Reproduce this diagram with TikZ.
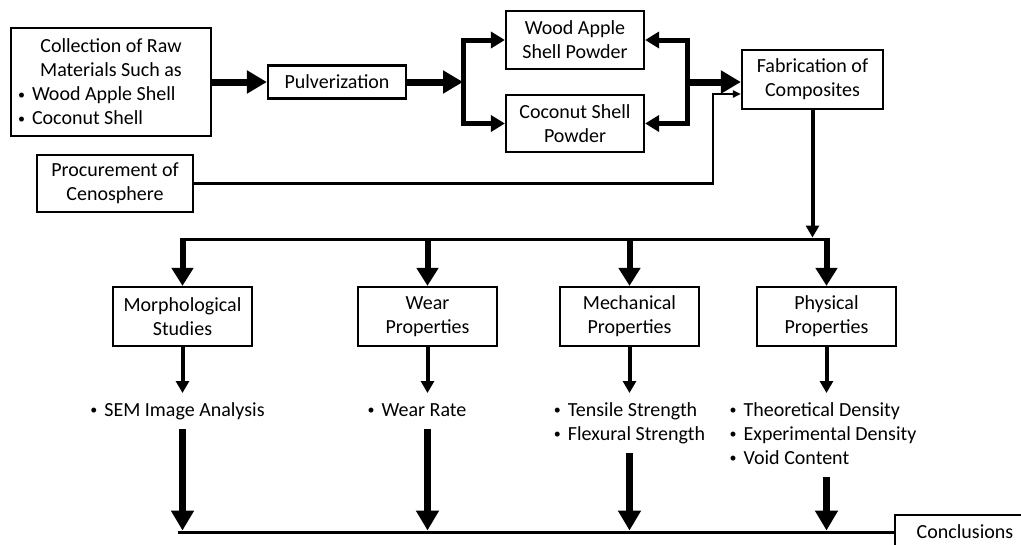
\documentclass[tikz,border=0pt]{standalone}
\usepackage{fontspec}
\setmainfont{Carlito}
\usetikzlibrary{arrows.meta}

\newcommand{\itemlist}[1]{\begin{tabular}{@{}l@{}}#1\end{tabular}}
\newcommand{\blt}{\makebox[14pt][l]{\raisebox{1.5pt}{\fontsize{14}{14}\selectfont\textbullet}}}

\begin{document}
\begin{tikzpicture}[x=1pt,y=-1pt,
    font=\fontsize{20}{24}\selectfont,
    box/.style={draw,line width=2.2pt,align=center,inner sep=2pt},
    list/.style={anchor=north,inner xsep=0pt,inner ysep=6pt},
    medtip/.tip={Triangle[length=14pt,width=16pt]},
    heavy/.style={line width=7pt,-{Triangle[length=20pt,width=22pt]}},
    medium/.style={line width=5pt,-medtip},
    drop/.style={line width=6pt,-{Triangle[length=18pt,width=21pt]}},
    slim/.style={line width=4pt,-{Triangle[length=12pt,width=13pt]}},
    feed/.style={line width=2.5pt,-{Triangle[length=8pt,width=7pt]}},
    bus/.style={line width=3pt}]
\path[use as bounding box,clip] (0,0) rectangle (1021,544);

\node[box,minimum width=200pt,minimum height=108pt] (raw) at (111,82)
    {Collection of Raw\\Materials Such as\\\makebox[186pt][l]{\blt Wood Apple Shell}\\\makebox[186pt][l]{\blt Coconut Shell}};
\node[box,minimum width=138pt,minimum height=33pt] (pulv) at (337,82) {Pulverization};
\node[box,minimum width=138pt,minimum height=58pt] (wood) at (575,40) {Wood Apple\\Shell Powder};
\node[box,minimum width=138pt,minimum height=57pt] (coco) at (575,123.5) {Coconut Shell\\Powder};
\node[box,minimum width=141pt,minimum height=59pt] (fab) at (812.5,79.5) {Fabrication of\\Composites};
\node[box,minimum width=156pt,minimum height=57pt] (proc) at (115,183.5) {Procurement of\\Cenosphere};
\node[box,minimum width=140pt,minimum height=34pt] (conc) at (965,532) {Conclusions};

\foreach \x/\nm/\txt in {182.5/morph/{Morphological\\Studies},427.5/wear/{Wear\\Properties},629.5/mech/{Mechanical\\Properties},826.5/phys/{Physical\\Properties}} {
    \node[box,minimum width=139pt,minimum height=59pt] (\nm) at (\x,316.5) {\txt};
}

\node[list] (sem) at (177.5,393) {\itemlist{\blt SEM Image Analysis}};
\node[list] (rate) at (417,393) {\itemlist{\blt Wear Rate}};
\node[list] (mtests) at (629.5,393) {\itemlist{\blt Tensile Strength\\\blt Flexural Strength}};
\node[list] (ptests) at (823,393) {\itemlist{\blt Theoretical Density\\\blt Experimental Density\\\blt Void Content}};

\coordinate (lsplit) at (463,82);
\coordinate (rsplit) at (687,82);
\coordinate (pbend) at (713,94);
\coordinate (bus) at (0,239);

\draw[heavy] (raw.east) -- (raw.east -| pulv.west);
\draw[heavy] (pulv.east) -- (lsplit);
\draw[medium] (lsplit) |- (wood.west);
\draw[medium] (lsplit) |- (coco.west);
\draw[medium,medtip-medtip] (wood.east) -| (rsplit) |- (coco.east);
\draw[heavy] (rsplit) -- (rsplit -| fab.west);
\draw[feed] (proc.east) -| (pbend) -- (pbend -| fab.west);

\draw[slim,shorten >=1.5pt] (fab.south) -- (fab.south |- bus);
\draw[bus] (morph |- bus) -- (phys |- bus);
\draw[bus] ([xshift=-5pt]morph |- conc.west) -- (conc.west);
\foreach \nm/\ls in {morph/sem,wear/rate,mech/mtests,phys/ptests} {
    \draw[drop] ([yshift=1.5pt]\nm |- bus) -- (\nm.north);
    \draw[slim] (\nm.south) -- (\nm.south |- \ls.north);
    \draw[heavy] (\nm |- \ls.south) -- ([yshift=1.5pt]\nm |- conc.west);
}
\end{tikzpicture}
\end{document}
